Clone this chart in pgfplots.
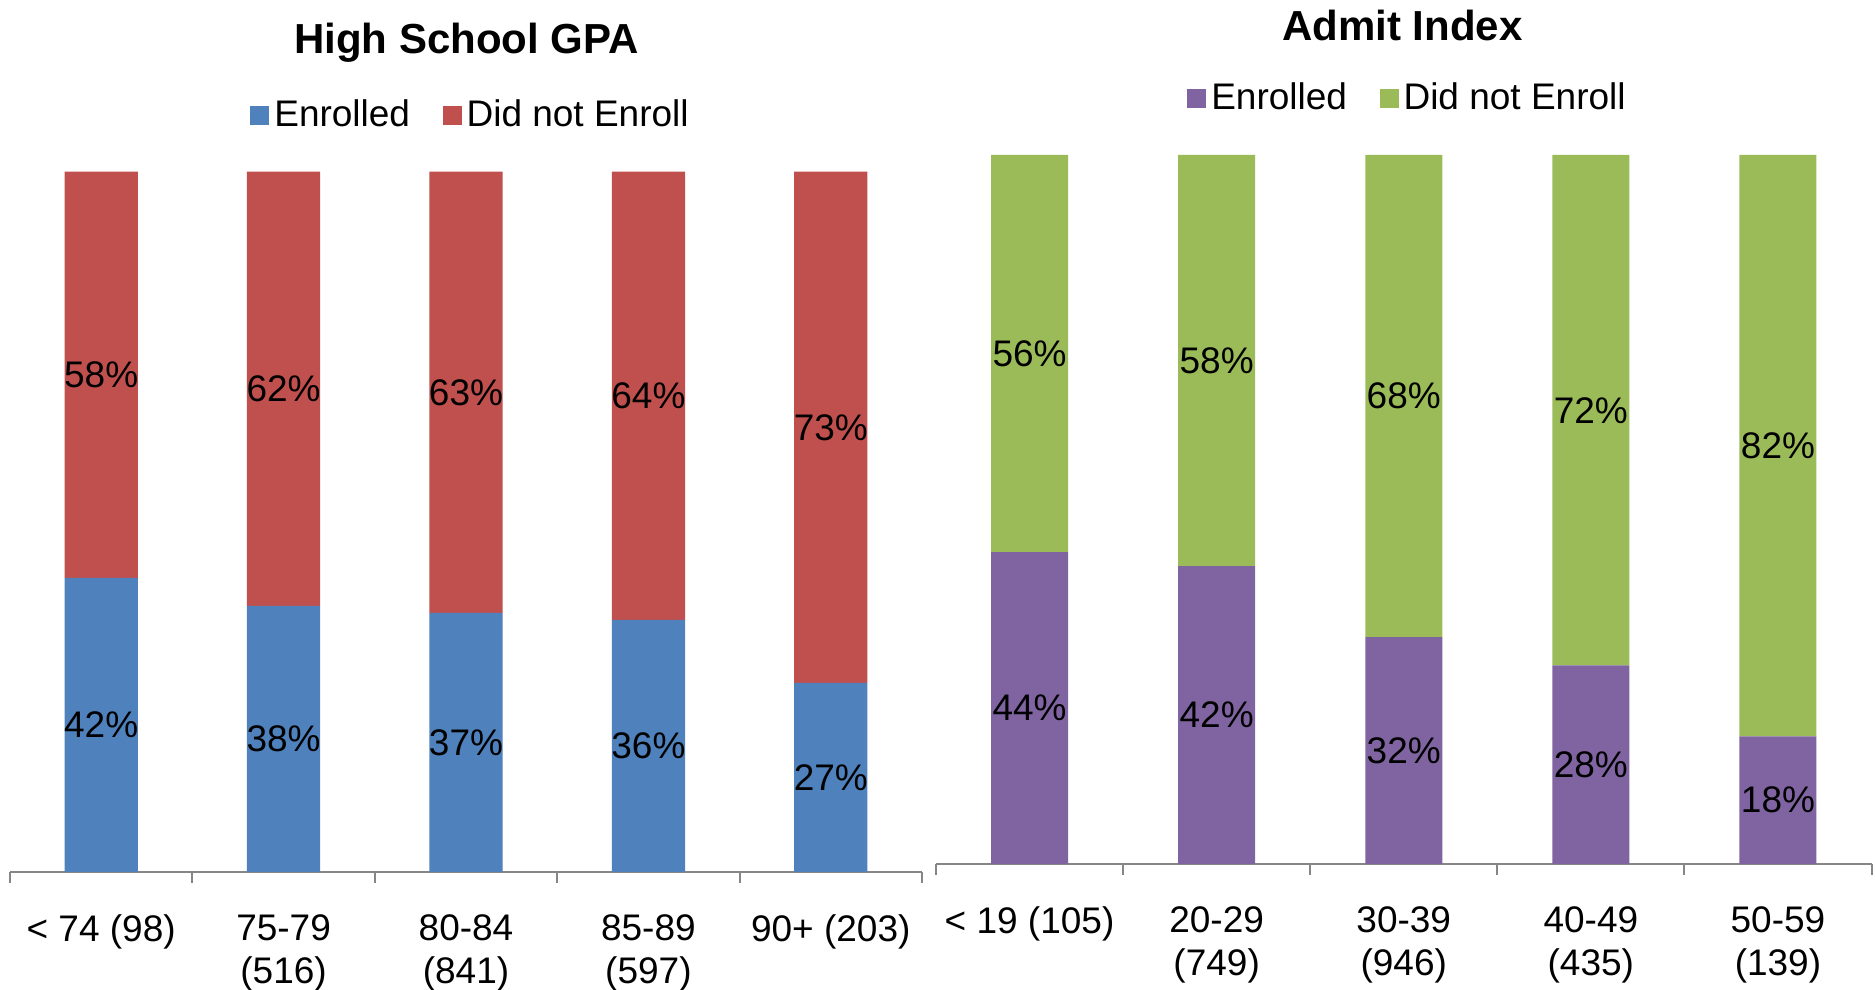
\documentclass[border=0pt]{standalone}
\usepackage{pgfplots}
\pgfplotsset{compat=1.18}
\usepackage{fontspec}
\setmainfont{Liberation Sans}

\definecolor{enrblue}{HTML}{4F81BD}
\definecolor{notred}{HTML}{C0504D}
\definecolor{enrpurple}{HTML}{8064A2}
\definecolor{notgreen}{HTML}{9BBB59}
\definecolor{axisgray}{HTML}{868686}

\newcommand{\lblfont}{\fontsize{14.8}{17}\selectfont}

\pgfplotsset{
  frame5/.style={
    scale only axis, anchor=south west,
    xmin=-0.5, xmax=4.5, ymin=0, ymax=100,
  },
  bars5/.style={
    frame5, ybar stacked,
    axis x line*=bottom, axis y line=none,
    x axis line style={axisgray, line width=0.8pt},
    xtick={0,...,4},
    major tick length=0pt,
    minor xtick={-0.5,0.5,...,4.5},
    minor tick length=4.4pt,
    tick align=outside,
    minor tick style={axisgray, line width=0.8pt},
    xticklabel style={font=\lblfont, align=center, inner sep=0pt, yshift=-17pt, anchor=north},
    every axis title/.style={anchor=center, font=\bfseries\fontsize{16.8}{20}\selectfont},
    legend columns=2,
    legend style={draw=none, fill=none, anchor=center, font=\lblfont,
      /tikz/every odd column/.append style={column sep=0pt},
      /tikz/every even column/.append style={column sep=11pt}},
    legend image code/.code={\fill[##1] (0pt,-3.8pt) rectangle (7.6pt,3.8pt);},
  },
  labels5/.style={
    frame5, hide axis,
  },
  pct/.style={draw=none, mark=none, nodes near coords, point meta=explicit symbolic,
    nodes near coords align=center,
    every node near coord/.append style={font=\lblfont, inner sep=0pt, text=black}},
}

\begin{document}
\begin{tikzpicture}
\path[use as bounding box] (0,0) rectangle (750pt,396pt);

% High School GPA
\begin{axis}[bars5,
  at={(4pt,47.2pt)}, width=364.8pt, height=280.1pt,
  bar width=29.3pt,
  xticklabels={{< 74 (98)}, {75-79\\(516)}, {80-84\\(841)}, {85-89\\(597)}, {90+ (203)}},
  title={High School GPA},
  title style={at={(0.5005,1.1846)}},
  legend style={at={(0.5066,1.081)}},
]
\addplot[fill=enrblue, draw=none] coordinates {(0,42) (1,38) (2,37) (3,36) (4,27)};
\addplot[fill=notred, draw=none] coordinates {(0,58) (1,62) (2,63) (3,64) (4,73)};
\legend{Enrolled, Did not Enroll}
\end{axis}
\begin{axis}[labels5, at={(4pt,47.2pt)}, width=364.8pt, height=280.1pt]
\addplot[pct] coordinates {(0,21)[42\%] (1,19)[38\%] (2,18.5)[37\%] (3,18)[36\%] (4,13.5)[27\%]};
\addplot[pct] coordinates {(0,71)[58\%] (1,69)[62\%] (2,68.5)[63\%] (3,68)[64\%] (4,63.5)[73\%]};
\end{axis}

% Admit Index
\begin{axis}[bars5,
  at={(374.4pt,50.4pt)}, width=374.2pt, height=283.6pt,
  bar width=30.8pt,
  xticklabels={{< 19 (105)}, {20-29\\(749)}, {30-39\\(946)}, {40-49\\(435)}, {50-59\\(139)}},
  title={Admit Index},
  title style={at={(0.4987,1.182)}},
  legend style={at={(0.5056,1.080)}},
]
\addplot[fill=enrpurple, draw=none] coordinates {(0,44) (1,42) (2,32) (3,28) (4,18)};
\addplot[fill=notgreen, draw=none] coordinates {(0,56) (1,58) (2,68) (3,72) (4,82)};
\legend{Enrolled, Did not Enroll}
\end{axis}
\begin{axis}[labels5, at={(374.4pt,50.4pt)}, width=374.2pt, height=283.6pt]
\addplot[pct] coordinates {(0,22)[44\%] (1,21)[42\%] (2,16)[32\%] (3,14)[28\%] (4,9)[18\%]};
\addplot[pct] coordinates {(0,72)[56\%] (1,71)[58\%] (2,66)[68\%] (3,64)[72\%] (4,59)[82\%]};
\end{axis}
\end{tikzpicture}
\end{document}
